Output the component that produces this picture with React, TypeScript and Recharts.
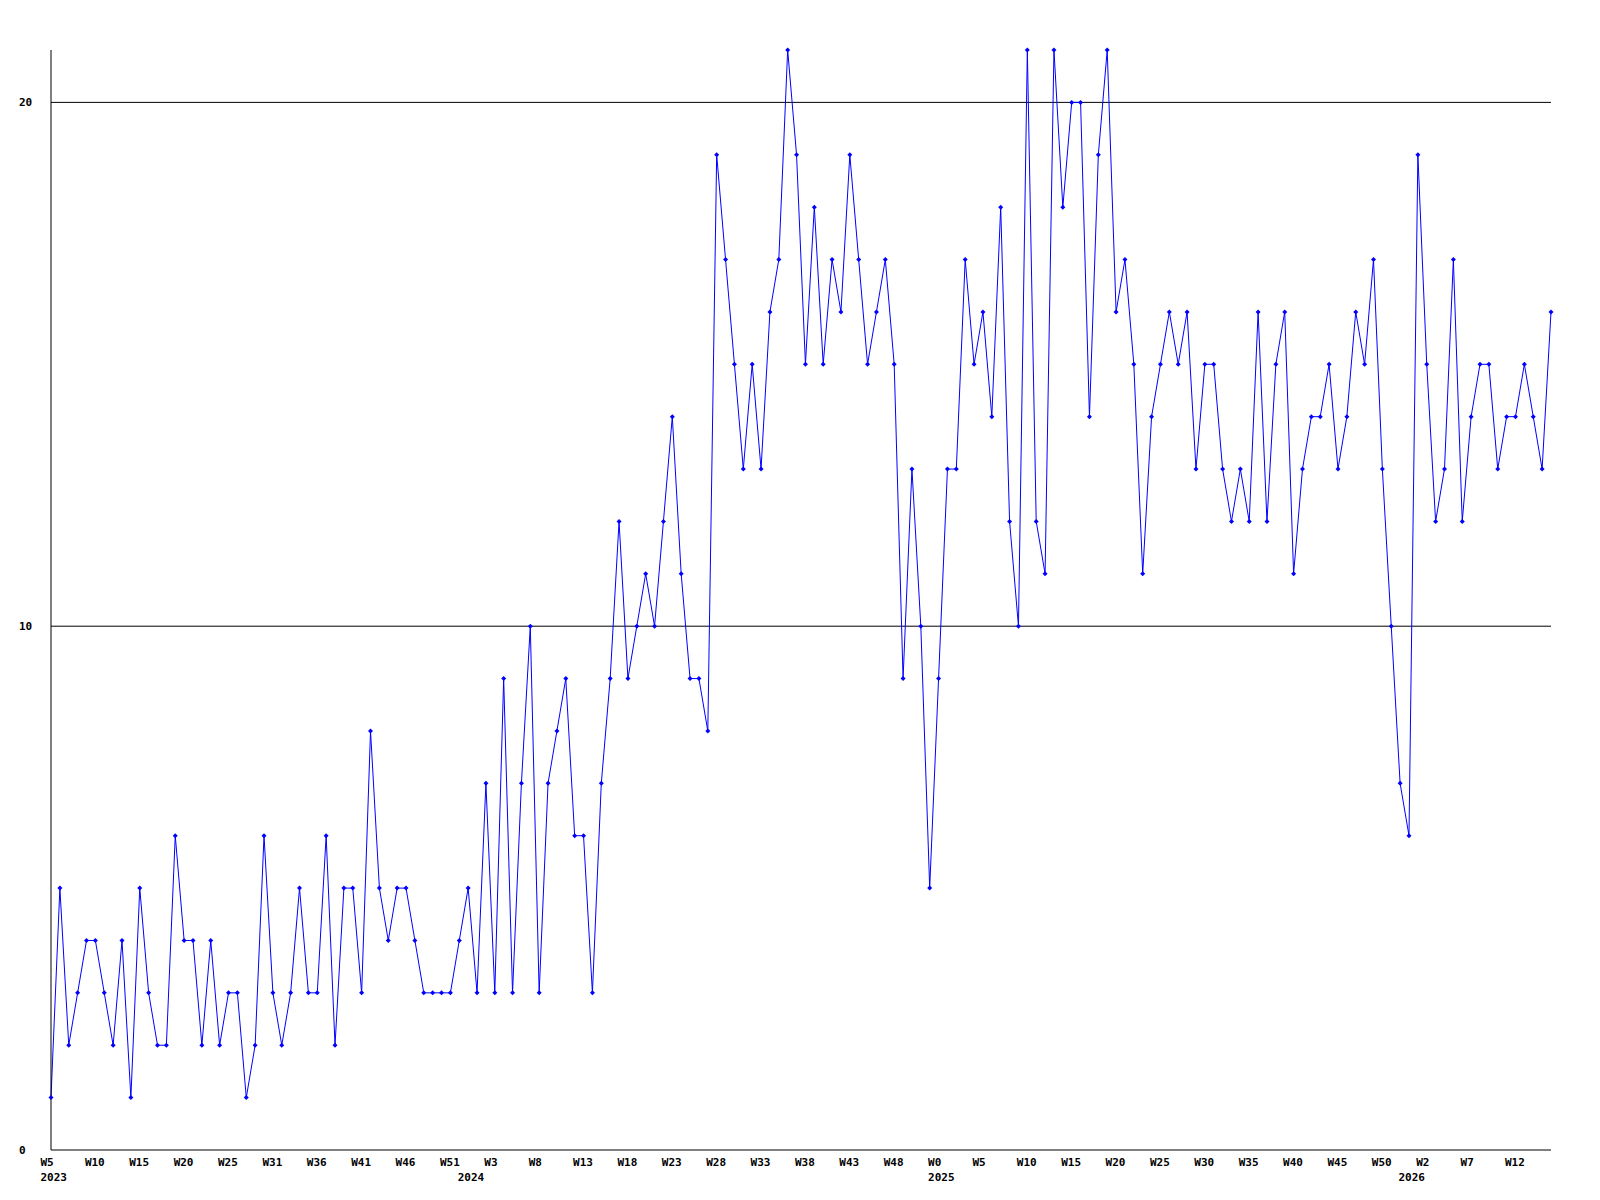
import { Line, LineChart, ReferenceLine, XAxis, YAxis } from 'recharts';

// weekly counts, W5 2023 .. W16 2026
const counts = [
  1, 5, 2, 3, 4, 4, 3, 2, 4, 1,
  5, 3, 2, 2, 6, 4, 4, 2, 4, 2,
  3, 3, 1, 2, 6, 3, 2, 3, 5, 3,
  3, 6, 2, 5, 5, 3, 8, 5, 4, 5,
  5, 4, 3, 3, 3, 3, 4, 5, 3, 7,
  3, 9, 3, 7, 10, 3, 7, 8, 9, 6,
  6, 3, 7, 9, 12, 9, 10, 11, 10, 12,
  14, 11, 9, 9, 8, 19, 17, 15, 13, 15,
  13, 16, 17, 21, 19, 15, 18, 15, 17, 16,
  19, 17, 15, 16, 17, 15, 9, 13, 10, 5,
  9, 13, 13, 17, 15, 16, 14, 18, 12, 10,
  21, 12, 11, 21, 18, 20, 20, 14, 19, 21,
  16, 17, 15, 11, 14, 15, 16, 15, 16, 13,
  15, 15, 13, 12, 13, 12, 16, 12, 15, 16,
  11, 13, 14, 14, 15, 13, 14, 16, 15, 17,
  13, 10, 7, 6, 19, 15, 12, 13, 17, 12,
  14, 15, 15, 13, 14, 14, 15, 14, 13, 16,
];

// one label for every fifth week
const weekLabels = [
  'W5', 'W10', 'W15', 'W20', 'W25', 'W31', 'W36', 'W41', 'W46', 'W51',
  'W3', 'W8', 'W13', 'W18', 'W23', 'W28', 'W33', 'W38', 'W43', 'W48',
  'W0', 'W5', 'W10', 'W15', 'W20', 'W25', 'W30', 'W35', 'W40', 'W45',
  'W50', 'W2', 'W7', 'W12',
];

// year label sits under the first week of each year (index into counts)
const yearLabels: Record<number, string> = { 0: '2023', 47: '2024', 100: '2025', 153: '2026' };

const yTicks = [0, 10, 20];
const gridLines = [10, 20];

const data = counts.map((v, i) => ({ i, v }));

const FONT = '"DejaVu Sans Mono", monospace';

function WeekTick({ x, y, payload }: any) {
  const i = payload.value;
  const week = i % 5 === 0 ? weekLabels[i / 5] : null;
  const year = yearLabels[i];
  if (!week && !year) return <g />;
  return (
    <g>
      {week && (
        <text x={x - 10.5} y={y + 16} textAnchor="start" fontFamily={FONT} fontWeight="bold" fontSize={11} fill="#000">
          {week}
        </text>
      )}
      {year && (
        <text x={x - 10.5} y={y + 31} textAnchor="start" fontFamily={FONT} fontWeight="bold" fontSize={11} fill="#000">
          {year}
        </text>
      )}
    </g>
  );
}

function CountTick({ x, y, payload }: any) {
  return (
    <text x={x - 32} y={y + 4} textAnchor="start" fontFamily={FONT} fontWeight="bold" fontSize={11} fill="#000">
      {payload.value}
    </text>
  );
}

function Diamond({ cx, cy, index }: any) {
  return (
    <polygon
      key={index}
      points={`${cx},${cy - 2.5} ${cx + 2.5},${cy} ${cx},${cy + 2.5} ${cx - 2.5},${cy}`}
      fill="#0000ff"
    />
  );
}

export default function App() {
  return (
    <div style={{ position: 'absolute', left: 0, top: 0, width: 1600, height: 1200, background: '#fff' }}>
      <LineChart width={1600} height={1200} data={data} margin={{ top: 50, right: 49, bottom: 0, left: 0 }}>
        <XAxis
          dataKey="i"
          type="category"
          interval={0}
          height={50}
          tickSize={0}
          tickMargin={0}
          tickLine={false}
          axisLine={{ stroke: '#000' }}
          tick={<WeekTick />}
        />
        <YAxis
          domain={[0, 21]}
          ticks={yTicks}
          width={51}
          tickSize={0}
          tickMargin={0}
          tickLine={false}
          axisLine={{ stroke: '#000' }}
          tick={<CountTick />}
        />
        {gridLines.map((g) => (
          <ReferenceLine key={g} y={g} stroke="#000" strokeWidth={1} />
        ))}
        <Line
          type="linear"
          dataKey="v"
          stroke="#0000ff"
          strokeWidth={1}
          dot={<Diamond />}
          activeDot={false}
          isAnimationActive={false}
        />
      </LineChart>
    </div>
  );
}
